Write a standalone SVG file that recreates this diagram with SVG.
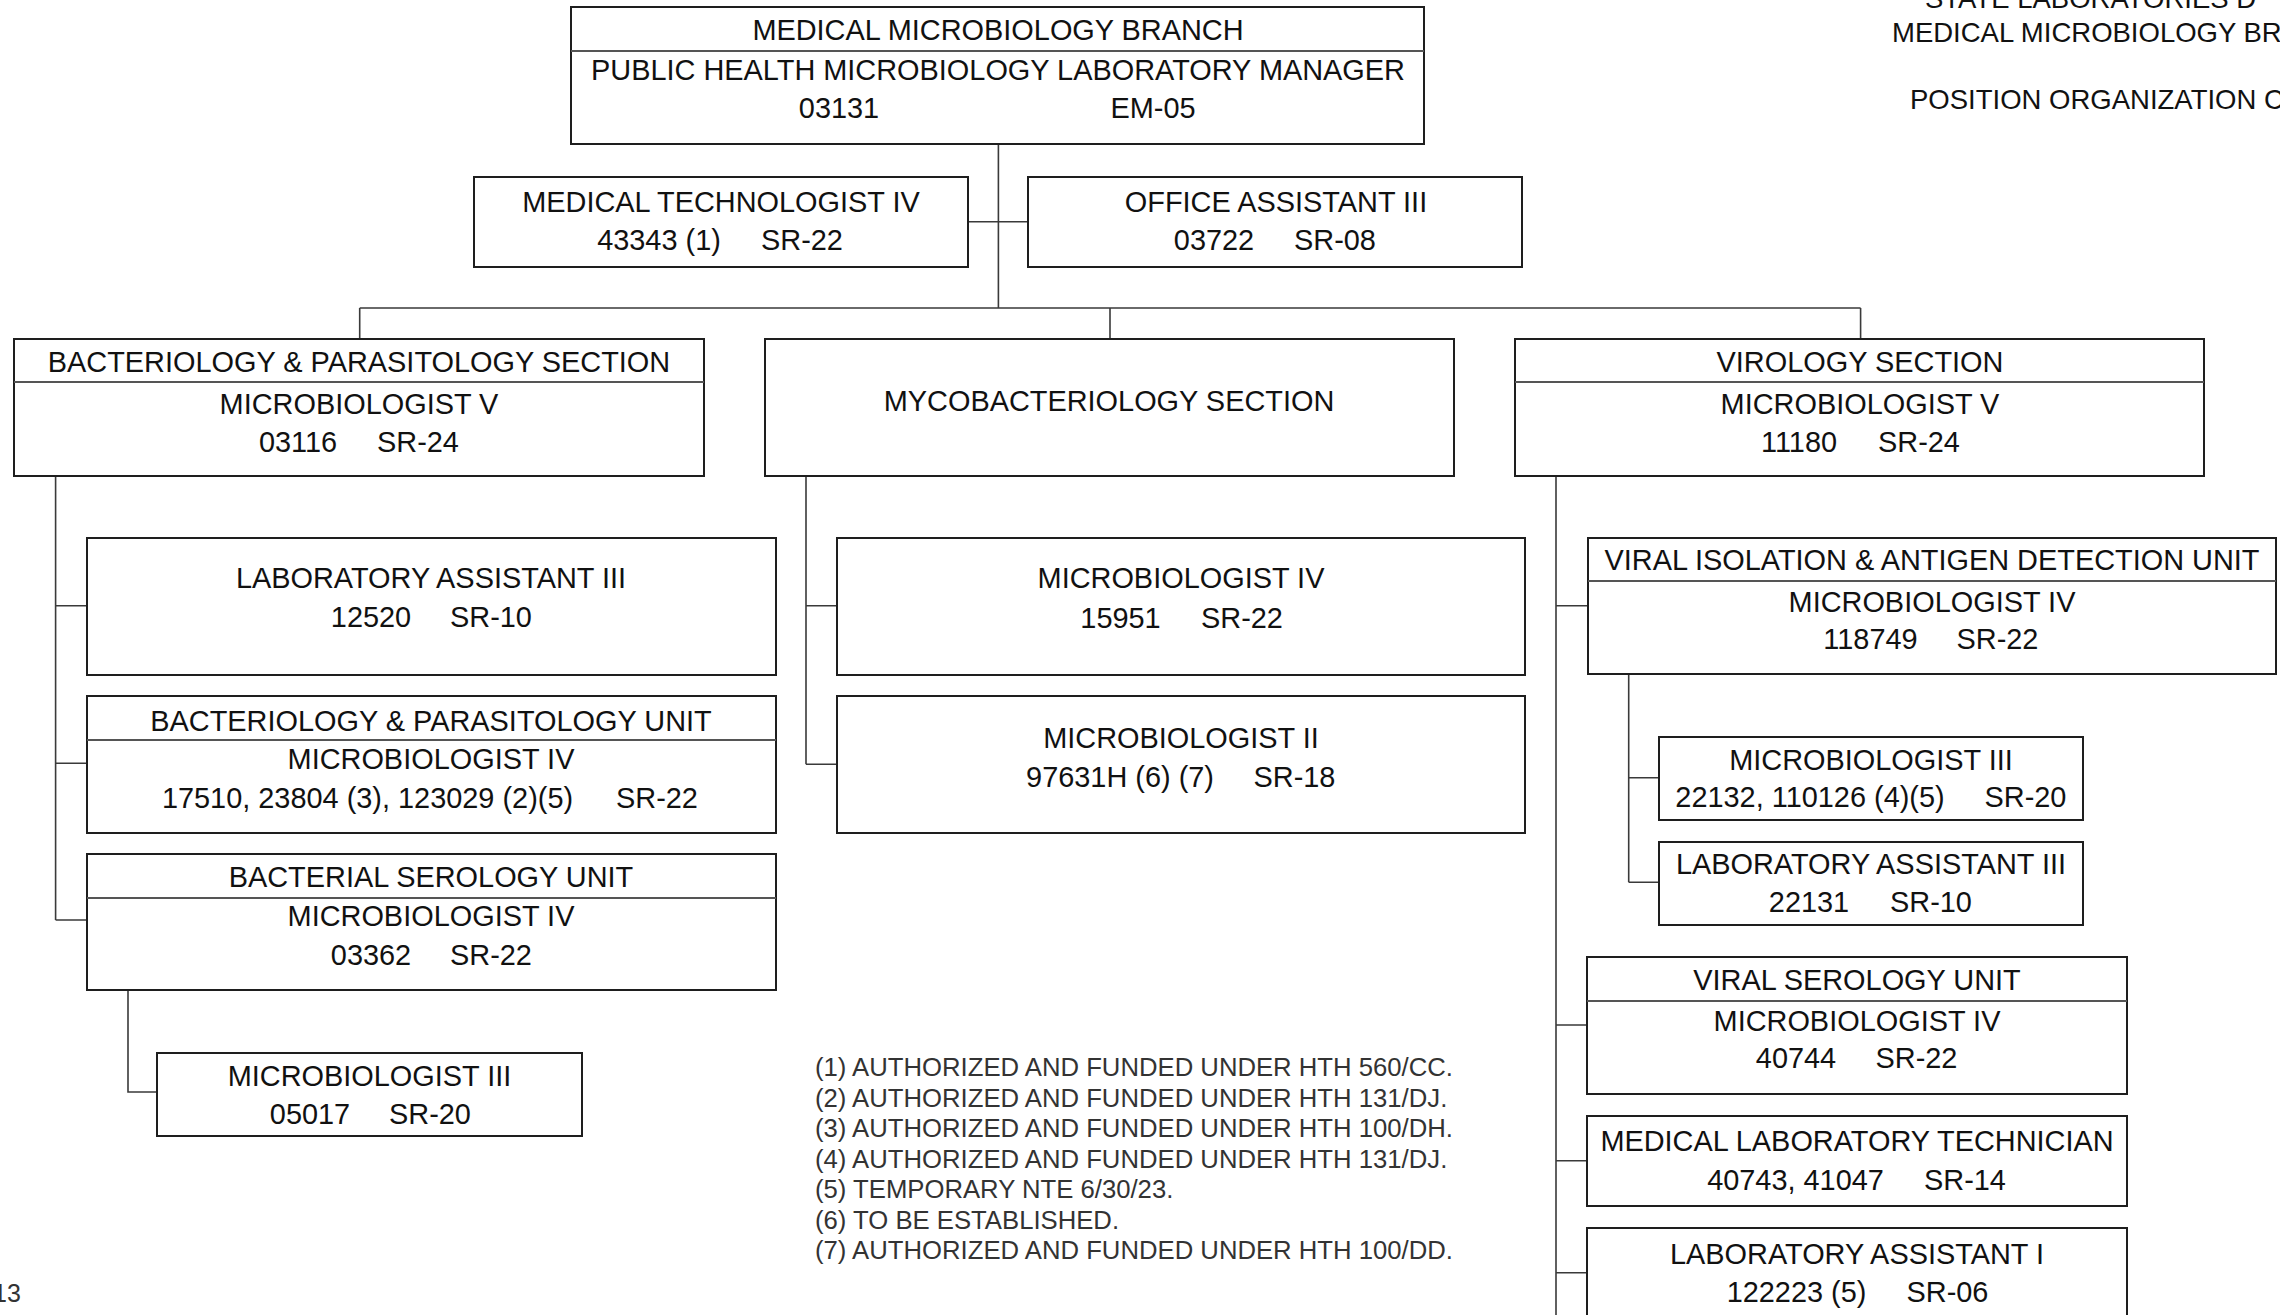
<svg xmlns="http://www.w3.org/2000/svg" width="2280" height="1315" viewBox="0 0 2280 1315">
<style>
.bx{fill:#fff;stroke:#1e1e1e;stroke-width:2}
.dv{stroke:#555;stroke-width:2;fill:none}
.cn{stroke:#3a3a3a;stroke-width:1.6;fill:none}
text{font-family:"Liberation Sans",Arial,sans-serif;font-size:28.9px;fill:#111;text-anchor:middle}
.fn{font-size:25.7px;fill:#333;text-anchor:start}
.hd{font-size:27.5px;fill:#111;text-anchor:start}
</style>
<rect width="2280" height="1315" fill="#fff"/>

<g id="header">
<text class="hd" x="1925" y="8">STATE LABORATORIES D</text>
<text class="hd" x="1892" y="42">MEDICAL MICROBIOLOGY BR</text>
<text class="hd" x="1910" y="109">POSITION ORGANIZATION C</text>
</g>

<g id="connectors">
<path class="cn" d="M998.4 144V308M968 221.7H1028M359.7 308H1860.6M359.7 308V339M1110 308V339M1860.6 308V339"/>
<path class="cn" d="M55.6 476V920M55.6 605.7H87M55.6 763.3H87M55.6 920H87M128 990V1092H157"/>
<path class="cn" d="M806 476V764.3M806 605.7H837M806 764.3H837"/>
<path class="cn" d="M1556 476V1315M1556 605.7H1588M1556 1025H1587M1556 1160.7H1587M1556 1272.7H1587M1628.7 674V882.3M1628.7 777.7H1659M1628.7 882.3H1659"/>
</g>

<g id="n-branch">
<rect class="bx" x="571" y="7" width="853" height="137"/>
<line class="dv" x1="571" y1="51" x2="1424" y2="51"/>
<text x="998" y="40">MEDICAL MICROBIOLOGY BRANCH</text>
<text x="998" y="80">PUBLIC HEALTH MICROBIOLOGY LABORATORY MANAGER</text>
<text x="839" y="118">03131</text>
<text x="1153" y="118">EM-05</text>
</g>

<g id="n-medtech">
<rect class="bx" x="474" y="177" width="494" height="90"/>
<text x="721" y="212">MEDICAL TECHNOLOGIST IV</text>
<text x="659" y="250">43343 (1)</text>
<text x="802" y="250">SR-22</text>
</g>

<g id="n-office">
<rect class="bx" x="1028" y="177" width="494" height="90"/>
<text x="1276" y="212">OFFICE ASSISTANT III</text>
<text x="1214" y="250">03722</text>
<text x="1335" y="250">SR-08</text>
</g>

<g id="n-bact-section">
<rect class="bx" x="14" y="339" width="690" height="137"/>
<line class="dv" x1="14" y1="382" x2="704" y2="382"/>
<text x="359" y="372">BACTERIOLOGY &amp; PARASITOLOGY SECTION</text>
<text x="359" y="414">MICROBIOLOGIST V</text>
<text x="298" y="452">03116</text>
<text x="418" y="452">SR-24</text>
</g>

<g id="n-myco-section">
<rect class="bx" x="765" y="339" width="689" height="137"/>
<text x="1109" y="411">MYCOBACTERIOLOGY SECTION</text>
</g>

<g id="n-viro-section">
<rect class="bx" x="1515" y="339" width="689" height="137"/>
<line class="dv" x1="1515" y1="382" x2="2204" y2="382"/>
<text x="1860" y="372">VIROLOGY SECTION</text>
<text x="1860" y="414">MICROBIOLOGIST V</text>
<text x="1799" y="452">11180</text>
<text x="1919" y="452">SR-24</text>
</g>

<g id="n-labasst3-bact">
<rect class="bx" x="87" y="538" width="689" height="137"/>
<text x="431" y="588">LABORATORY ASSISTANT III</text>
<text x="371" y="627">12520</text>
<text x="491" y="627">SR-10</text>
</g>

<g id="n-bp-unit">
<rect class="bx" x="87" y="696" width="689" height="137"/>
<line class="dv" x1="87" y1="740" x2="776" y2="740"/>
<text x="431" y="731">BACTERIOLOGY &amp; PARASITOLOGY UNIT</text>
<text x="431" y="769">MICROBIOLOGIST IV</text>
<text x="367.5" y="808">17510, 23804 (3), 123029 (2)(5)</text>
<text x="657" y="808">SR-22</text>
</g>

<g id="n-bact-serology">
<rect class="bx" x="87" y="854" width="689" height="136"/>
<line class="dv" x1="87" y1="898" x2="776" y2="898"/>
<text x="431" y="887">BACTERIAL SEROLOGY UNIT</text>
<text x="431" y="926">MICROBIOLOGIST IV</text>
<text x="371" y="965">03362</text>
<text x="491" y="965">SR-22</text>
</g>

<g id="n-micro3-bact">
<rect class="bx" x="157" y="1053" width="425" height="83"/>
<text x="369.5" y="1086">MICROBIOLOGIST III</text>
<text x="310" y="1124">05017</text>
<text x="430" y="1124">SR-20</text>
</g>

<g id="n-micro4-myco">
<rect class="bx" x="837" y="538" width="688" height="137"/>
<text x="1181" y="588">MICROBIOLOGIST IV</text>
<text x="1120.5" y="628">15951</text>
<text x="1242" y="628">SR-22</text>
</g>

<g id="n-micro2-myco">
<rect class="bx" x="837" y="696" width="688" height="137"/>
<text x="1181" y="748">MICROBIOLOGIST II</text>
<text x="1120" y="787">97631H (6) (7)</text>
<text x="1294.5" y="787">SR-18</text>
</g>

<g id="n-viad-unit">
<rect class="bx" x="1588" y="538" width="688" height="136"/>
<line class="dv" x1="1588" y1="581" x2="2276" y2="581"/>
<text x="1932" y="570">VIRAL ISOLATION &amp; ANTIGEN DETECTION UNIT</text>
<text x="1932" y="612">MICROBIOLOGIST IV</text>
<text x="1870.5" y="649">118749</text>
<text x="1997.5" y="649">SR-22</text>
</g>

<g id="n-micro3-viro">
<rect class="bx" x="1659" y="737" width="424" height="83"/>
<text x="1871" y="770">MICROBIOLOGIST III</text>
<text x="1810" y="807">22132, 110126 (4)(5)</text>
<text x="2025.5" y="807">SR-20</text>
</g>

<g id="n-labasst3-viro">
<rect class="bx" x="1659" y="842" width="424" height="83"/>
<text x="1871" y="874">LABORATORY ASSISTANT III</text>
<text x="1809" y="912">22131</text>
<text x="1931" y="912">SR-10</text>
</g>

<g id="n-viral-serology">
<rect class="bx" x="1587" y="957" width="540" height="137"/>
<line class="dv" x1="1587" y1="1001" x2="2127" y2="1001"/>
<text x="1857" y="990">VIRAL SEROLOGY UNIT</text>
<text x="1857" y="1031">MICROBIOLOGIST IV</text>
<text x="1796" y="1068">40744</text>
<text x="1916.5" y="1068">SR-22</text>
</g>

<g id="n-medlabtech">
<rect class="bx" x="1587" y="1116" width="540" height="90"/>
<text x="1857" y="1151">MEDICAL LABORATORY TECHNICIAN</text>
<text x="1795.5" y="1190">40743, 41047</text>
<text x="1965" y="1190">SR-14</text>
</g>

<g id="n-labasst1">
<rect class="bx" x="1587" y="1228" width="540" height="110"/>
<text x="1857" y="1264">LABORATORY ASSISTANT I</text>
<text x="1796.5" y="1302">122223 (5)</text>
<text x="1947.5" y="1302">SR-06</text>
</g>

<g id="footnotes">
<text class="fn" x="815" y="1076">(1) AUTHORIZED AND FUNDED UNDER HTH 560/CC.</text>
<text class="fn" x="815" y="1106.5">(2) AUTHORIZED AND FUNDED UNDER HTH 131/DJ.</text>
<text class="fn" x="815" y="1137">(3) AUTHORIZED AND FUNDED UNDER HTH 100/DH.</text>
<text class="fn" x="815" y="1167.5">(4) AUTHORIZED AND FUNDED UNDER HTH 131/DJ.</text>
<text class="fn" x="815" y="1198">(5) TEMPORARY NTE 6/30/23.</text>
<text class="fn" x="815" y="1228.5">(6) TO BE ESTABLISHED.</text>
<text class="fn" x="815" y="1259">(7) AUTHORIZED AND FUNDED UNDER HTH 100/DD.</text>
</g>

<text class="fn" x="-7" y="1302" style="font-size:25px">13</text>
</svg>
